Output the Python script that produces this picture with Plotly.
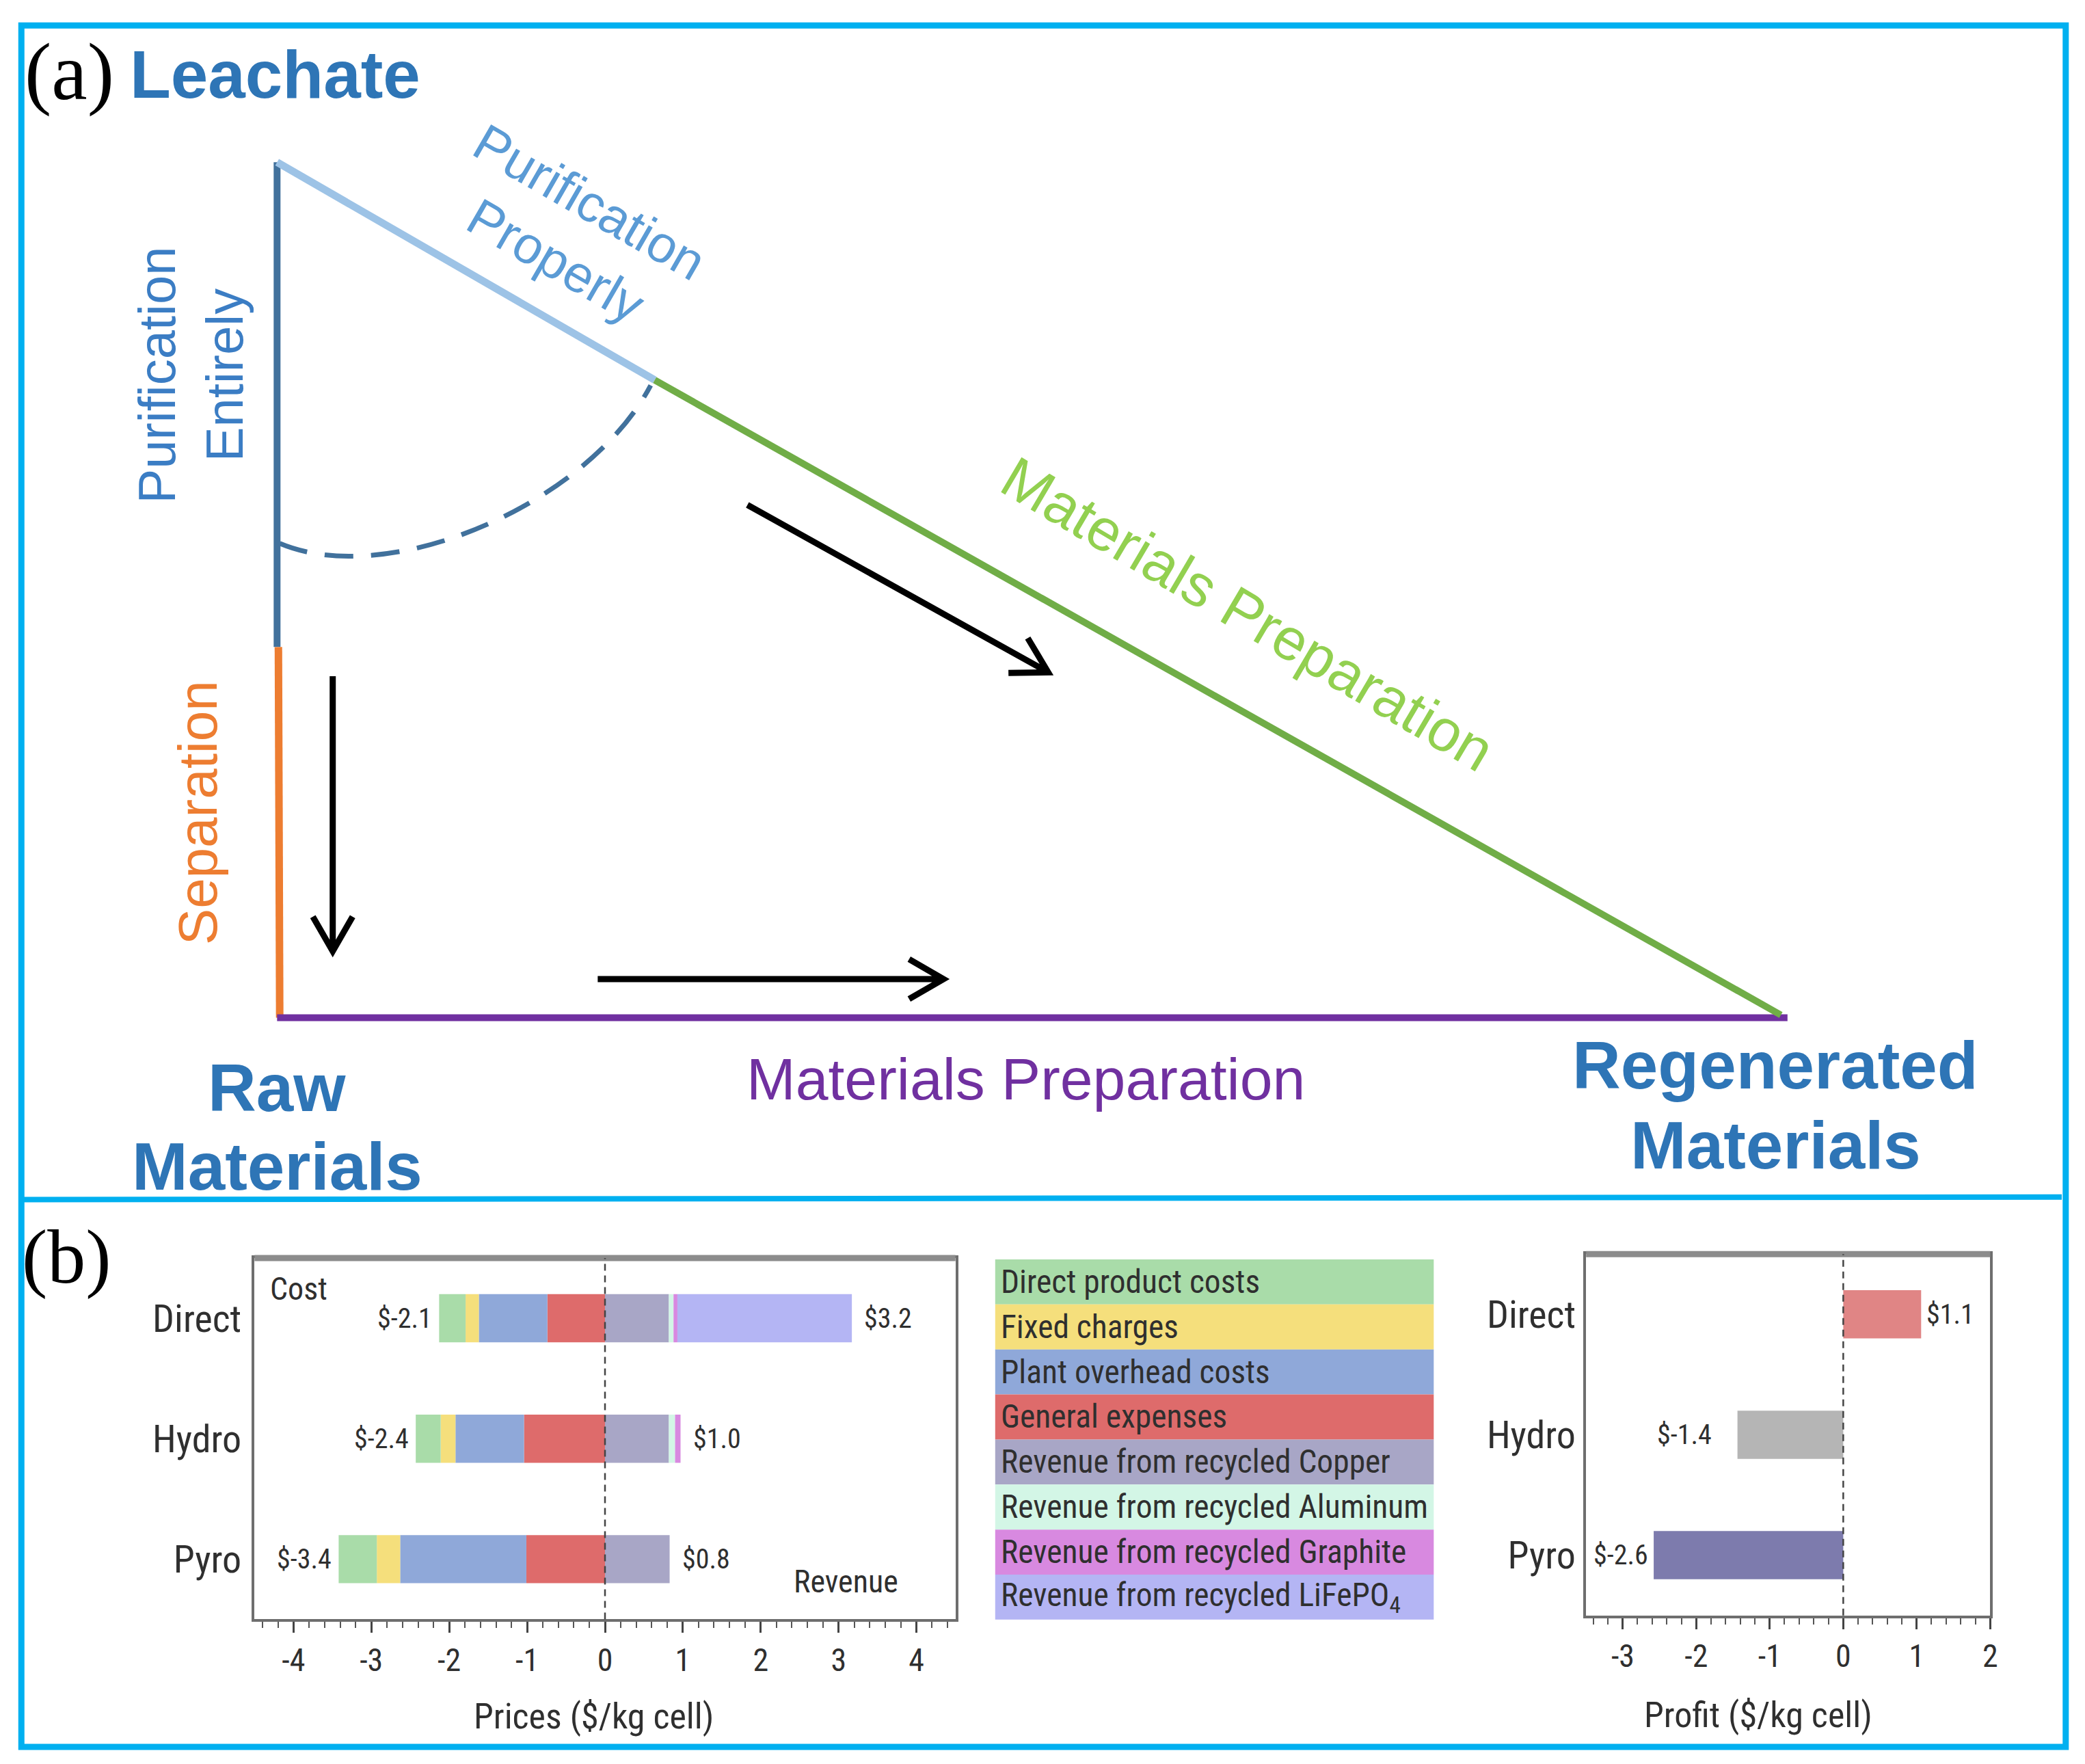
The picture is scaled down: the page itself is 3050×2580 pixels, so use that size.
import math
import plotly.graph_objects as go

# ---------------- data ----------------
categories = ["Direct", "Hydro", "Pyro"]
direct_product_costs = [0.34, 0.32, 0.49]
fixed_charges = [0.17, 0.19, 0.30]
plant_overhead_costs = [0.88, 0.88, 1.62]
general_expenses = [0.74, 1.04, 1.01]
rev_copper = [0.82, 0.82, 0.83]
rev_aluminum = [0.06, 0.08, 0.0]
rev_graphite = [0.05, 0.07, 0.0]
rev_lifepo4 = [2.24, 0.0, 0.0]
profit = [1.06, -1.44, -2.58]

price_ticks = [-4, -3, -2, -1, 0, 1, 2, 3, 4]
price_ticktext = ["-4", "-3", "-2", "-1", "0", "1", "2", "3", "4"]
profit_ticks = [-3, -2, -1, 0, 1, 2]
profit_ticktext = ["-3", "-2", "-1", "0", "1", "2"]

legend_labels = [
    "Direct product costs", "Fixed charges", "Plant overhead costs", "General expenses",
    "Revenue from recycled Copper", "Revenue from recycled Aluminum",
    "Revenue from recycled Graphite", "Revenue from recycled LiFePO<sub>4</sub>",
]
legend_colors = ["#a9dca9", "#f5df7c", "#8fa8d9", "#de6b6b",
                 "#a8a6c6", "#d3f6e6", "#d889e0", "#b4b5f4"]
profit_colors = ["#e08585", "#b5b5b5", "#7d7bad"]

# ---------------- layout constants ----------------
W, H = 3050, 2580
DW, DH = 1568.0, 1328.0  # design grid (reference at display scale)
NARROW = "Roboto Condensed, Liberation Sans, sans-serif"
SANS = "Liberation Sans, Arial, sans-serif"
SERIF = "Liberation Serif, Times New Roman, serif"
INK = "#2f2f2f"

fig = go.Figure()

# ---- stacked cost / revenue bars ----
neg_series = [
    ("General expenses", general_expenses, legend_colors[3]),
    ("Plant overhead costs", plant_overhead_costs, legend_colors[2]),
    ("Fixed charges", fixed_charges, legend_colors[1]),
    ("Direct product costs", direct_product_costs, legend_colors[0]),
]
pos_series = [
    ("Copper", rev_copper, legend_colors[4]),
    ("Aluminum", rev_aluminum, legend_colors[5]),
    ("Graphite", rev_graphite, legend_colors[6]),
    ("LiFePO4", rev_lifepo4, legend_colors[7]),
]
for name, vals, col in neg_series:
    fig.add_trace(go.Bar(y=categories, x=[-v for v in vals], orientation="h", name=name,
                         marker=dict(color=col, line=dict(width=0)), width=0.4,
                         xaxis="x2", yaxis="y2", showlegend=False))
for name, vals, col in pos_series:
    fig.add_trace(go.Bar(y=categories, x=vals, orientation="h", name=name,
                         marker=dict(color=col, line=dict(width=0)), width=0.4,
                         xaxis="x2", yaxis="y2", showlegend=False))

# ---- profit bars ----
fig.add_trace(go.Bar(y=categories, x=profit, orientation="h", name="Profit",
                     marker=dict(color=profit_colors, line=dict(width=0)), width=0.4,
                     xaxis="x3", yaxis="y3", showlegend=False))

def ydom(top, bottom):
    return [1 - bottom / DH, 1 - top / DH]

tickfont = dict(family=NARROW, size=46, color=INK)
catfont = dict(family=NARROW, size=56, color=INK)
titlefont = dict(family=NARROW, size=52, color=INK)

axis_common = dict(showline=True, mirror=True, linecolor="#6e6e6e", linewidth=4,
                   showgrid=False, zeroline=False, fixedrange=True)

fig.update_layout(
    width=W, height=H,
    margin=dict(l=0, r=0, t=0, b=0),
    paper_bgcolor="white", plot_bgcolor="rgba(0,0,0,0)",
    barmode="relative",
    xaxis=dict(domain=[0, 1], range=[0, DW], visible=False, fixedrange=True),
    yaxis=dict(domain=[0, 1], range=[DH, 0], visible=False, fixedrange=True),
    xaxis2=dict(domain=[188 / DW, 717 / DW], range=[-4.5, 4.5], anchor="y2",
                tickvals=price_ticks, ticktext=price_ticktext, tickfont=tickfont,
                ticks="outside", ticklen=16, tickwidth=3, tickcolor="#444444",
                minor=dict(dtick=0.2, ticks="outside", ticklen=9, tickwidth=2, tickcolor="#555555"),
                **axis_common),
    yaxis2=dict(domain=ydom(943, 1215), anchor="x2", type="category",
                categoryorder="array", categoryarray=categories, range=[2.5, -0.5],
                tickfont=catfont, ticks="", ticklabelstandoff=4, **axis_common),
    xaxis3=dict(domain=[1193 / DW, 1498 / DW], range=[-3.5, 2.0], anchor="y3",
                tickvals=profit_ticks, ticktext=profit_ticktext, tickfont=tickfont,
                ticks="outside", ticklen=16, tickwidth=3, tickcolor="#444444",
                minor=dict(dtick=0.2, ticks="outside", ticklen=9, tickwidth=2, tickcolor="#555555"),
                **axis_common),
    yaxis3=dict(domain=ydom(940, 1212), anchor="x3", type="category",
                categoryorder="array", categoryarray=categories, range=[2.5, -0.5],
                tickfont=catfont, ticks="", ticklabelstandoff=0, **axis_common),
)

shapes = []
annotations = []

def line(x0, y0, x1, y1, color, width, dash="solid"):
    shapes.append(dict(type="line", xref="x", yref="y", x0=x0, y0=y0, x1=x1, y1=y1,
                       line=dict(color=color, width=width, dash=dash), layer="above"))

def text(x, y, t, size, color, family=SANS, angle=0, xanchor="center", yanchor="middle", bold=False):
    if bold:
        t = "<b>" + t + "</b>"
    annotations.append(dict(x=x, y=y, xref="x", yref="y", text=t, showarrow=False,
                            textangle=angle, xanchor=xanchor, yanchor=yanchor,
                            font=dict(family=family, size=size, color=color)))

def arrow(x0, y0, x1, y1, color="black", width=9, head=30, spread=30):
    ang = math.atan2(y1 - y0, x1 - x0)
    pts = []
    for s in (1, -1):
        a = ang + math.pi - s * math.radians(spread)
        pts.append((x1 + head * math.cos(a), y1 + head * math.sin(a)))
    path = (f"M {x0},{y0} L {x1},{y1} M {pts[0][0]},{pts[0][1]} L {x1},{y1} "
            f"L {pts[1][0]},{pts[1][1]}")
    shapes.append(dict(type="path", xref="x", yref="y", path=path,
                       line=dict(color=color, width=width), layer="above"))

# ---- cyan frame ----
shapes.append(dict(type="rect", xref="x", yref="y", x0=12, y0=15, x1=1555, y1=1311,
                   line=dict(color="#00b0f0", width=9), layer="above"))
line(12, 899, 1552, 897, "#00b0f0", 8)

# ---- panel (a) diagram ----
TOP = (205, 118)
MID = (490, 282)
BL = (205, 762)
BR = (1345, 762)
line(TOP[0], TOP[1], 205, 483, "#41719c", 10)
line(206, 483, 207, BL[1], "#ed7d31", 11)
line(BL[0], BL[1], BR[0], BR[1], "#7030a0", 10)
line(TOP[0], TOP[1], MID[0], MID[1], "#9dc3e6", 11)
line(MID[0], MID[1], 1340, 760, "#70ad47", 10)
shapes.append(dict(type="path", xref="x", yref="y",
                   path="M 207,405 C 290,440 440,375 487,286",
                   line=dict(color="#41719c", width=7, dash="42px,26px"), layer="above"))
arrow(560, 376, 787, 502)
arrow(247, 505, 247, 712)
arrow(447, 733, 708, 733)

text(48, 50, "(a)", 118, "black", family=SERIF)
text(93, 52, "Leachate", 98, "#2e75b6", xanchor="left", bold=True)
text(205, 815, "Raw", 98, "#2e75b6", bold=True)
text(205, 874, "Materials", 98, "#2e75b6", bold=True)
text(1336, 798, "Regenerated", 98, "#2e75b6", bold=True)
text(1336, 858, "Materials", 98, "#2e75b6", bold=True)
text(770, 808, "Materials Preparation", 86, "#7030a0")
text(938, 458, "Materials Preparation", 86, "#92d050", angle=30.5)
text(428, 170, "Purification<br>Properly", 76, "#5b9bd5", angle=30)
text(140, 278, "Purification<br>Entirely", 76, "#3b7dc4", angle=-90)
text(145, 608, "Separation", 80, "#ed7d31", angle=-90)

# ---- panel (b) ----
text(46, 942, "(b)", 112, "black", family=SERIF)
text(444, 1288, "Prices ($/kg cell)", 52, INK, family=NARROW)
text(1323, 1287, "Profit ($/kg cell)", 52, INK, family=NARROW)

# thicker top border lines of the two charts
shapes.append(dict(type="line", xref="x2 domain", yref="y2 domain", x0=0, x1=1, y0=1, y1=1,
                   line=dict(color="#8c8c8c", width=9), layer="above"))
shapes.append(dict(type="line", xref="x3 domain", yref="y3 domain", x0=0, x1=1, y0=1, y1=1,
                   line=dict(color="#8c8c8c", width=9), layer="above"))
# dashed zero lines
shapes.append(dict(type="line", xref="x2", yref="y2 domain", x0=0, x1=0, y0=0, y1=1,
                   line=dict(color="#444444", width=2.5, dash="10px,7px"), layer="above"))
shapes.append(dict(type="line", xref="x3", yref="y3 domain", x0=0, x1=0, y0=0, y1=1,
                   line=dict(color="#444444", width=2.5, dash="10px,7px"), layer="above"))

labfont = dict(family=NARROW, size=40, color=INK)
for i, cat in enumerate(categories):
    cost = sum(s[1][i] for s in neg_series)
    rev = sum(s[1][i] for s in pos_series)
    annotations.append(dict(x=-cost, y=cat, xref="x2", yref="y2", text=f"$-{cost:.1f}",
                            showarrow=False, xanchor="right", xshift=-8, font=labfont))
    annotations.append(dict(x=rev, y=cat, xref="x2", yref="y2", text=f"${rev:.1f}",
                            showarrow=False, xanchor="left", xshift=16, font=labfont))
    p = profit[i]
    if p >= 0:
        annotations.append(dict(x=p, y=cat, xref="x3", yref="y3", text=f"${p:.1f}",
                                showarrow=False, xanchor="left", xshift=6, font=labfont))
    else:
        annotations.append(dict(x=p, y=cat, xref="x3", yref="y3", text=f"$-{abs(p):.1f}",
                                showarrow=False, xanchor="right",
                                xshift=-36 if p > -2 else -6, font=labfont))

annotations.append(dict(x=0.02, y=0.97, xref="x2 domain", yref="y2 domain", text="Cost",
                        showarrow=False, xanchor="left", yanchor="top",
                        font=dict(family=NARROW, size=46, color=INK)))
annotations.append(dict(x=0.92, y=0.05, xref="x2 domain", yref="y2 domain", text="Revenue",
                        showarrow=False, xanchor="right", yanchor="bottom",
                        font=dict(family=NARROW, size=46, color=INK)))

# ---- legend boxes ----
LX0, LX1, LY0, RH = 747, 1078, 944, 33.9
for k, (lab, col) in enumerate(zip(legend_labels, legend_colors)):
    y0 = LY0 + k * RH
    shapes.append(dict(type="rect", xref="x", yref="y", x0=LX0, x1=LX1, y0=y0, y1=y0 + RH,
                       line=dict(width=0), fillcolor=col, layer="above"))
    annotations.append(dict(x=LX0 + 3, y=y0 + RH / 2, xref="x", yref="y", text=lab,
                            showarrow=False, xanchor="left", yanchor="middle",
                            font=dict(family=NARROW, size=47.5, color=INK)))

fig.update_layout(shapes=shapes, annotations=annotations)
fig.write_html("out.html")
